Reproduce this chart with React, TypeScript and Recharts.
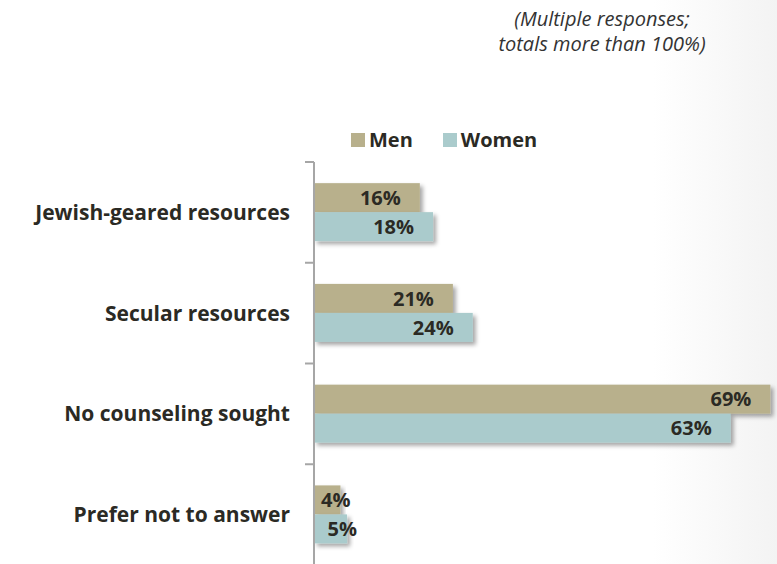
import React from 'react';
import { BarChart, Bar, XAxis, YAxis, Legend, LabelList } from 'recharts';

const categories = ['Jewish-geared resources', 'Secular resources', 'No counseling sought', 'Prefer not to answer'];
const menValues = [16, 21, 69, 4];
const womenValues = [18, 24, 63, 5];
const seriesNames = ['Men', 'Women'];
const seriesColors = ['#b8b08c', '#aacbcc'];

const data = categories.map((c, i) => ({ name: c, men: menValues[i], women: womenValues[i] }));

const FONT = '"Open Sans", "Liberation Sans", sans-serif';
const BAND = 100.75;

const ShadowBar = (props: any) => {
  const { x, y, width, height, fill } = props;
  if (!width || width <= 0) return null;
  return <rect x={x} y={y} width={width} height={height} fill={fill} filter="url(#barShadow)" />;
};

const ValueLabel = (props: any) => {
  const { x, y, width, height, value } = props;
  const txt = `${value}%`;
  const small = width < 60;
  const tx = small ? x + width + 10 : x + width - 19;
  return (
    <text x={tx} y={y + height / 2} dy="0.36em" textAnchor="end" fontFamily={FONT} fontWeight={700} fontSize={20} fill="#2b2a24">
      {txt}
    </text>
  );
};

const CategoryTick = (props: any) => {
  const { x, y, payload, index, visibleTicksCount } = props;
  const half = payload && payload.offset ? payload.offset : BAND / 2;
  const last = index === (visibleTicksCount ?? categories.length) - 1;
  return (
    <g>
      <line x1={x - 9} x2={x} y1={y - half} y2={y - half} stroke="#a6a6a6" strokeWidth={2} />
      {last && <line x1={x - 9} x2={x} y1={y + half} y2={y + half} stroke="#a6a6a6" strokeWidth={2} />}
      <text x={x - 24} y={y} dy="0.36em" textAnchor="end" fontFamily={FONT} fontWeight={700} fontSize={21} fill="#2b2a24">
        {payload.value}
      </text>
    </g>
  );
};

const LegendContent = () => (
  <div style={{ display: 'flex', alignItems: 'center', fontFamily: FONT, fontWeight: 700, fontSize: 20, color: '#2b2a24' }}>
    {seriesNames.map((n, i) => (
      <div key={n} style={{ display: 'flex', alignItems: 'center', marginRight: 30 }}>
        <span style={{ display: 'inline-block', width: 14, height: 14, background: seriesColors[i], marginRight: 4 }} />
        <span>{n}</span>
      </div>
    ))}
  </div>
);

export default function App() {
  return (
    <div
      style={{
        position: 'absolute',
        left: 0,
        top: 0,
        width: 777,
        height: 564,
        overflow: 'hidden',
        background: 'linear-gradient(to right, #ffffff 0%, #ffffff 84%, #f3f3f3 100%)',
      }}
    >
      <svg width={0} height={0} style={{ position: 'absolute' }}>
        <defs>
          <filter id="barShadow" x="-10%" y="-20%" width="130%" height="160%">
            <feDropShadow dx={3} dy={3} stdDeviation={2} floodColor="#000" floodOpacity={0.35} />
          </filter>
        </defs>
      </svg>
      <div
        style={{
          position: 'absolute',
          left: 0,
          width: 0,
          top: 24,
          fontFamily: FONT,
          fontSize: 20,
          color: '#333',
        }}
      >
        <span style={{ position: 'absolute', left: -7 }}>)</span>
      </div>
      <div
        style={{
          position: 'absolute',
          left: 452,
          width: 300,
          top: 6,
          textAlign: 'center',
          fontFamily: FONT,
          fontStyle: 'italic',
          fontSize: 20,
          lineHeight: '25px',
          color: '#333',
        }}
      >
        (Multiple responses;
        <br />
        totals more than 100%)
      </div>
      <BarChart
        width={777}
        height={580}
        data={data}
        layout="vertical"
        margin={{ top: 162, right: 0, bottom: 15, left: 0 }}
        barCategoryGap="21%"
        barGap={0}
      >
        <XAxis type="number" domain={[0, 70]} hide />
        <YAxis
          type="category"
          dataKey="name"
          width={314}
          axisLine={{ stroke: '#a6a6a6', strokeWidth: 2 }}
          tickLine={false}
          tickSize={0}
          tickMargin={0}
          tick={<CategoryTick />}
          interval={0}
        />
        <Legend
          layout="horizontal"
          verticalAlign="middle"
          align="center"
          wrapperStyle={{ top: 126, left: 351, width: 'auto' }}
          content={<LegendContent />}
        />
        <Bar dataKey="men" name={seriesNames[0]} fill={seriesColors[0]} shape={<ShadowBar />} isAnimationActive={false}>
          <LabelList dataKey="men" content={<ValueLabel />} />
        </Bar>
        <Bar dataKey="women" name={seriesNames[1]} fill={seriesColors[1]} shape={<ShadowBar />} isAnimationActive={false}>
          <LabelList dataKey="women" content={<ValueLabel />} />
        </Bar>
      </BarChart>
    </div>
  );
}
